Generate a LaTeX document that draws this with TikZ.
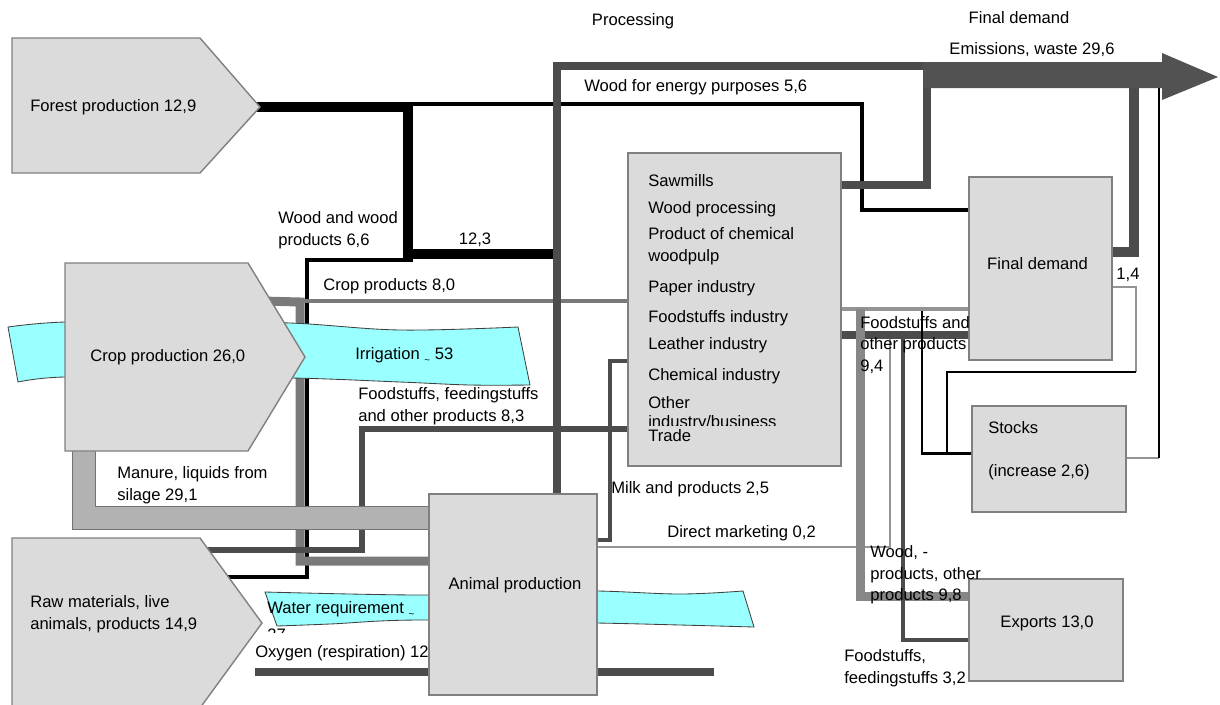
\documentclass[tikz,border=0pt]{standalone}
\usepackage{fontspec}
\setmainfont{Liberation Sans}
\usetikzlibrary{calc}
\pgfdeclarelayer{background}
\pgfdeclarelayer{water}
\pgfsetlayers{background,water,main}
\definecolor{waterblue}{RGB}{153,255,255}
\tikzstyle{block}=[draw=black!50, line width=1pt, fill=black!14, inner sep=0pt]
\tikzstyle{lbl}=[font=\fontsize{11.8}{15.3}\selectfont, inner sep=0pt,
    text height=8.6pt, text depth=2pt]
\tikzstyle{mlbl}=[font=\fontsize{11.8}{15.3}\selectfont, inner sep=0pt, align=left]
\tikzstyle{water}=[fill=waterblue, draw=black!75, line width=0.6pt]
\tikzstyle{blackflow}=[draw=black]
\tikzstyle{darkflow}=[draw=black!70]
\tikzstyle{midflow}=[draw=black!52]
\tikzstyle{paleflow}=[draw=black!42]
\def\lwBig{7.1pt}
\def\lwWide{5.7pt}
\def\lwMid{4.3pt}
\def\lwThin{3.4pt}
\def\lwFine{2.1pt}
\def\lwHair{1.4pt}
\newcommand{\approxsign}{\raisebox{-0.45ex}{\scriptsize\textasciitilde}}

\begin{document}
\begin{tikzpicture}[x=0.025cm, y=-0.025cm]
    \useasboundingbox (0,0) rectangle (1220,704);

    % sources (drawn as arrow shaped blocks)
    \draw[block] (12,38) -- (200,38) -- (260,107) -- (200,173) -- (12,173) -- cycle;
    \draw[block] (65,263) -- (248,263) -- (305,357) -- (248,451) -- (65,451) -- cycle;
    \draw[block] (12,538) -- (200,538) -- (262,623) -- (200,708) -- (12,708) -- cycle;
    \node (forest) [lbl, anchor=west] at (30,107) {Forest production 12,9};
    \node (crop) [lbl, anchor=west] at (90,357) {Crop production 26,0};
    \node (raw) [mlbl, anchor=west] at (30,614) {Raw materials, live\\animals, products 14,9};
    \coordinate (forest port) at (250,107);
    \coordinate (crop port) at (262,301);
    \coordinate (crop base) at (84,440);
    \coordinate (raw feed) at (195,550);
    \coordinate (raw wood) at (215,577);

    % blocks
    \node (proc) [block, minimum width=5.325cm, minimum height=7.825cm] at (734.5,309.5) {};
    \node (animal) [block, minimum width=4.2cm, minimum height=5.025cm] at (513,594.5) {};
    \node (final) [block, minimum width=3.575cm, minimum height=4.575cm] at (1040.5,268.5) {};
    \node (stocks) [block, minimum width=3.85cm, minimum height=2.65cm] at (1049,459) {};
    \node (exports) [block, minimum width=3.85cm, minimum height=2.55cm] at (1046,630) {};

    \node (animal txt) [lbl] at (515,585) {Animal production};
    \node (final txt) [lbl] at (1037.5,265) {Final demand};
    \node (stocks txt) [lbl, anchor=west] at (988,429) {Stocks};
    \node (stocks inc) [lbl, anchor=west] at (988,472) {(increase 2,6)};
    \node (exports txt) [lbl] at (1047,623) {Exports 13,0};

    % branches of processing
    \foreach \yy/\txt in {182/Sawmills, 209/Wood processing, 235/Product of chemical,
        257/woodpulp, 288/Paper industry, 318/Foodstuffs industry, 345/Leather industry,
        376/Chemical industry, 404/Other, 437/Trade}
        \node (proc-\yy) [lbl, anchor=west] at (648,\yy) {\txt};
    \begin{scope}
        \clip (640,410) rectangle (840,425);
        \node (proc-busy) [lbl, anchor=west] at (648,423) {industry/business};
    \end{scope}

    % headings
    \node (head proc) [lbl] at (633,21) {Processing};
    \node (head final) [lbl] at (1019,19) {Final demand};
    \node (emis) [lbl] at (1032,50) {Emissions, waste 29,6};

    % flow labels
    \node (l energy) [lbl, anchor=west] at (584,87) {Wood for energy purposes 5,6};
    \node (l wood) [mlbl, anchor=west] at (278,230) {Wood and wood\\products 6,6};
    \node (l 123) [lbl] at (475,240) {12,3};
    \node (l cropprod) [lbl, anchor=west] at (323,286) {Crop products 8,0};
    \node (l feed) [mlbl, anchor=west] at (358,406) {Foodstuffs, feedingstuffs\\and other products 8,3};
    \node (l manure) [mlbl, anchor=west] at (117,485) {Manure, liquids from\\silage 29,1};
    \node (l milk) [lbl, anchor=west] at (611,489) {Milk and products 2,5};
    \node (l direct) [lbl, anchor=west] at (667,533) {Direct marketing 0,2};
    \node (l food) [mlbl, anchor=west] at (860,345) {Foodstuffs and\\other products\\9,4};
    \node (l 14) [lbl] at (1128,275) {1,4};
    \node (l woodexp) [mlbl, anchor=west] at (870,575) {Wood, -\\products, other\\products 9,8};
    \node (l foodexp) [mlbl, anchor=west] at (844,668) {Foodstuffs,\\feedingstuffs 3,2};
    \node (l oxygen) [lbl, anchor=west] at (255,653) {Oxygen (respiration) 12};

    \begin{pgfonlayer}{water}
        \draw[water] plot[smooth, tension=0.6] coordinates {(8,327) (65,322) (180,322) (290,323) (400,330) (518,327)}
            -- (530,385)
            -- plot[smooth, tension=0.6] coordinates {(530,385) (470,385) (400,382) (290,378) (180,379) (65,377) (18,382)}
            -- cycle;
        \draw[water] plot[smooth, tension=0.6] coordinates {(265,592) (420,595) (520,592) (597,591) (680,594) (743,591)}
            -- (754,627)
            -- plot[smooth, tension=0.6] coordinates {(754,627) (680,625) (597,623) (420,620) (330,624) (277,626)}
            -- cycle;
    \end{pgfonlayer}
    \node (irrig) [lbl, anchor=west] at (355,355) {Irrigation \approxsign\ 53};
    \node (waterreq) [lbl, anchor=west] at (267,609) {Water requirement \approxsign};
    \begin{scope}
        \clip (260,626) rectangle (300,632.5);
        \node (waterreq2) [lbl, anchor=west] at (267,635.5) {37};
    \end{scope}

    \begin{pgfonlayer}{background}
        \coordinate (wood fork) at (408,107);
        \coordinate (wood split) at (408,262);
        \coordinate (chimney) at (557,66);
        \coordinate (outlet) at (923,75);
        \coordinate (oxygen in) at (255,672);
        \coordinate (oxygen out) at (714,672);
        % wood
        \draw[blackflow, line width=\lwBig] (forest port) -- (wood fork) -- (wood split);
        \draw[blackflow, line width=\lwBig] (404,254) -- (chimney |- 0,254);
        \draw[blackflow, line width=\lwThin] (wood split |- 0,260) -- (307,260) -- (307,577) -- (raw wood);
        \draw[blackflow, line width=\lwThin] (wood fork |- 0,104) -- (862,104) -- (862,210) -- (final.west |- 0,210);
        % crops
        \draw[midflow, line width=\lwThin] (crop port) -- (crop port -| proc.west);
        \draw[midflow, line width=6.4pt] (crop port) -- (300,302) -- (300,561) -- (animal.west |- 0,561);
        \draw[darkflow, line width=\lwMid] (proc.west |- 0,429) -- (362,429) -- (362,550) -- (raw feed);
        % animals
        \draw[darkflow, line width=\lwThin] (animal.east |- 0,540) -- (610,540) -- (610,361) -- (proc.west |- 0,361);
        \draw[paleflow, line width=\lwHair] (animal.east |- 0,547) -- (890,547) -- (890,335);
        \draw[darkflow, line width=\lwWide] (animal.north -| chimney) -- (chimney) -- (outlet |- chimney);
        \draw[darkflow, line width=\lwWide] (oxygen in) -- (oxygen out);
        % processing outputs
        \draw[darkflow, line width=\lwWide] (proc.east |- 0,185) -- (927,185) -- (927,70);
        \draw[darkflow, line width=5pt] (proc.east |- 0,335) -- (final.west |- 0,335);
        \draw[paleflow, line width=\lwThin] (proc.east |- 0,309) -- (final.west |- 0,309);
        \draw[draw=black!47, line width=6.4pt] (860,309) -- (860,596) -- (exports.west |- 0,596);
        \draw[darkflow, line width=\lwThin] (903,335) -- (903,640) -- (exports.west |- 0,640);
        \draw[blackflow, line width=\lwFine] (922,311) -- (922,453.5) -- (stocks.west |- 0,453.5);
        % final demand, stocks
        \draw[paleflow, line width=\lwHair] (final.east |- 0,287) -- (1136,287) -- (1136,372);
        \draw[blackflow, line width=\lwFine] (1136,372) -- (947,372) -- (947,453.5);
        \draw[darkflow, line width=\lwBig] (final.east |- 0,252) -- (1134,252) -- (1134,85);
        \draw[paleflow, line width=\lwHair] (stocks.east |- 0,458) -- (1159,458);
        \draw[blackflow, line width=\lwFine] (1159,458) -- (1159,85);
        % manure
        \draw[draw=black!55, line width=0.7pt, double=black!30, double distance=15.6pt]
            (crop base) -- (84,518) -- (animal.west |- 0,518);
        % emissions
        \fill[black!68] (outlet |- 0,62) -- (1162,62) -- (1162,53) -- (1218,77)
            -- (1162,100) -- (1162,88) -- (outlet |- 0,88) -- cycle;
    \end{pgfonlayer}
\end{tikzpicture}
\end{document}
